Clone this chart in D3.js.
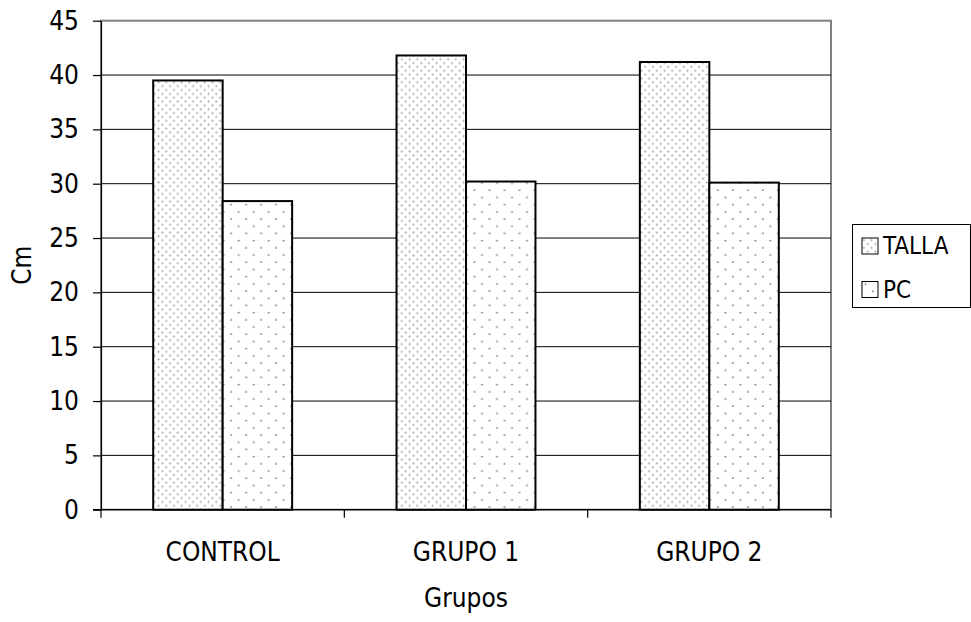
<!DOCTYPE html>
<html>
<head>
<meta charset="utf-8">
<script src="https://cdn.jsdelivr.net/npm/d3@7/dist/d3.min.js"></script>
<style>
  html, body { margin: 0; padding: 0; background: #fff; }
  svg { display: block; }
  text { font-family: "DejaVu Sans Condensed", "DejaVu Sans", sans-serif; fill: #000; }
</style>
</head>
<body>
<svg id="chart" width="971" height="622"></svg>
<script>
// Categories, series and their values (cm)
const categories = ["CONTROL", "GRUPO 1", "GRUPO 2"];
const seriesNames = ["TALLA", "PC"];
const tallaValues = [39.5, 41.8, 41.2];
const pcValues = [28.4, 30.2, 30.1];
const yTicks = [0, 5, 10, 15, 20, 25, 30, 35, 40, 45];
const xTitle = "Grupos";
const yTitle = "Cm";

const seriesValues = [tallaValues, pcValues];
const rows = categories.map((c, i) => ({
  cat: c,
  vals: seriesNames.map((s, j) => ({ key: s, value: seriesValues[j][i] }))
}));

const svg = d3.select("#chart");
const plot = { left: 101, right: 831, top: 20.7, bottom: 509.7 };

// Fill patterns: dense grey dots for TALLA, sparse dots for PC
const defs = svg.append("defs");
const pTalla = defs.append("pattern").attr("id", "pat-talla")
  .attr("patternUnits", "userSpaceOnUse").attr("width", 7.7).attr("height", 7.7);
pTalla.append("rect").attr("width", 7.7).attr("height", 7.7).attr("fill", "#fff");
[[1.5, 1.5], [5.35, 5.35]].forEach(([cx, cy]) =>
  pTalla.append("circle").attr("cx", cx).attr("cy", cy).attr("r", 0.95).attr("fill", "#9a9a9a"));

const pPc = defs.append("pattern").attr("id", "pat-pc")
  .attr("patternUnits", "userSpaceOnUse").attr("width", 15).attr("height", 14.4);
pPc.append("rect").attr("width", 15).attr("height", 14.4).attr("fill", "#fff");
[[3, 3], [10.5, 10.2]].forEach(([cx, cy]) =>
  pPc.append("circle").attr("cx", cx).attr("cy", cy).attr("r", 0.95).attr("fill", "#7a7a7a"));

const fills = { TALLA: "url(#pat-talla)", PC: "url(#pat-pc)" };

// Scales
const p = 0.429;
const x0 = d3.scaleBand().domain(categories)
  .range([plot.left, plot.right]).paddingInner(p).paddingOuter(p / 2);
const x1 = d3.scaleBand().domain(seriesNames).range([0, x0.bandwidth()]);
const y = d3.scaleLinear().domain([0, 45]).range([plot.bottom, plot.top]);

// Plot area border
svg.append("rect")
  .attr("x", plot.left).attr("y", plot.top)
  .attr("width", plot.right - plot.left).attr("height", plot.bottom - plot.top)
  .attr("fill", "#fff").attr("stroke", "#808080").attr("stroke-width", 2);

// Horizontal gridlines
svg.append("g").selectAll("line")
  .data(yTicks.filter(t => t > 0 && t < 45))
  .join("line")
  .attr("x1", plot.left).attr("x2", plot.right)
  .attr("y1", d => y(d)).attr("y2", d => y(d))
  .attr("stroke", "#000").attr("stroke-width", 1);

// Bars
const groups = svg.append("g").selectAll("g")
  .data(rows).join("g")
  .attr("transform", d => `translate(${x0(d.cat)},0)`);
groups.selectAll("rect")
  .data(d => d.vals).join("rect")
  .attr("x", d => x1(d.key))
  .attr("width", x1.bandwidth())
  .attr("y", d => y(d.value))
  .attr("height", d => y(0) - y(d.value))
  .attr("fill", d => fills[d.key])
  .attr("stroke", "#000").attr("stroke-width", 2);

// Y axis
const yAxis = svg.append("g")
  .attr("transform", `translate(${plot.left},0)`)
  .call(d3.axisLeft(y).tickValues(yTicks).tickSize(8).tickPadding(14).tickSizeOuter(0));
yAxis.attr("font-family", null).attr("font-size", null);
yAxis.select(".domain").attr("stroke", "#000").attr("stroke-width", 1.2);
yAxis.selectAll(".tick line").attr("stroke", "#000").attr("stroke-width", 1.2);
yAxis.selectAll(".tick text").attr("font-size", 26).attr("fill", "#000");

// X axis: baseline with ticks on category boundaries
const step = x0.step();
const boundaries = d3.range(categories.length + 1).map(i => x0(categories[0]) - step * p / 2 + i * step);
const xAxis = svg.append("g");
xAxis.append("line")
  .attr("x1", plot.left - 8).attr("x2", plot.right)
  .attr("y1", y(0)).attr("y2", y(0))
  .attr("stroke", "#000").attr("stroke-width", 1.2);
xAxis.selectAll("line.tick")
  .data(boundaries).join("line").attr("class", "tick")
  .attr("x1", d => d).attr("x2", d => d)
  .attr("y1", y(0)).attr("y2", y(0) + 8)
  .attr("stroke", "#000").attr("stroke-width", 1.2);
xAxis.selectAll("text")
  .data(categories).join("text")
  .attr("x", d => x0(d) + x0.bandwidth() / 2)
  .attr("y", 561)
  .attr("text-anchor", "middle")
  .attr("font-size", 26)
  .text(d => d);

// Axis titles
svg.append("text")
  .attr("x", (plot.left + plot.right) / 2).attr("y", 607)
  .attr("text-anchor", "middle").attr("font-size", 26)
  .text(xTitle);
svg.append("text")
  .attr("transform", `translate(31,${(plot.top + plot.bottom) / 2}) rotate(-90)`)
  .attr("text-anchor", "middle").attr("font-size", 26)
  .text(yTitle);

// Legend
const legend = svg.append("g");
legend.append("rect")
  .attr("x", 852.5).attr("y", 224.5).attr("width", 118).attr("height", 83)
  .attr("fill", "#fff").attr("stroke", "#000").attr("stroke-width", 1);
const items = legend.selectAll("g.item")
  .data(seriesNames).join("g").attr("class", "item")
  .attr("transform", (d, i) => `translate(0,${i * 43.5})`);
items.append("rect")
  .attr("x", 862).attr("y", 238).attr("width", 16).attr("height", 16)
  .attr("fill", d => fills[d]).attr("stroke", "#000").attr("stroke-width", 1);
items.append("text")
  .attr("x", 883).attr("y", 254)
  .attr("font-size", 24)
  .text(d => d);
</script>
</body>
</html>
